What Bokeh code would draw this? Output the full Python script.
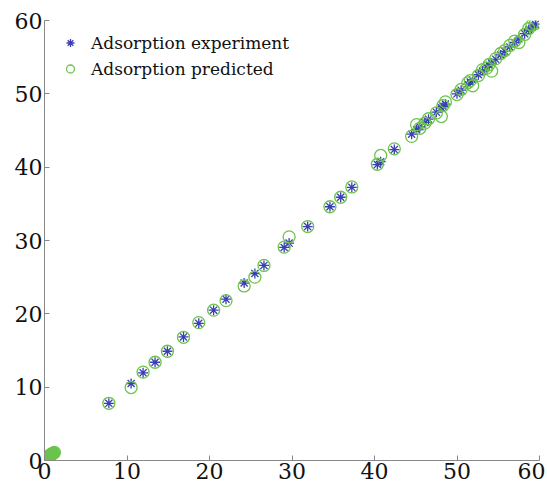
from bokeh.plotting import figure
from bokeh.models import Legend, LegendItem, FixedTicker
from bokeh.embed import file_html
from bokeh.resources import INLINE

# Experimental values (x) and predicted values
experiment = [0.05, 0.1, 0.15, 0.2, 0.25, 0.3, 0.35, 0.4, 0.45, 0.5, 0.55, 0.6,
              0.65, 0.7, 0.75, 0.8, 0.85, 0.9, 1.0, 1.1, 1.2,
              7.8, 10.5, 11.95, 13.4, 14.9, 16.85, 18.7, 20.5, 22.0, 24.2, 25.5,
              26.6, 29.05, 29.65, 31.9, 34.6, 35.9, 37.25, 40.35, 40.75, 42.4,
              44.5, 45.1, 45.5, 46.1, 46.55, 47.5, 48.1, 48.3, 48.6, 50.0, 50.5,
              51.3, 51.6, 51.9, 52.6, 53.1, 53.6, 53.9, 54.2, 54.7, 55.3, 55.8,
              56.4, 57.0, 57.5, 58.2, 58.7, 59.1, 59.5]
predicted = [0.1, 0.05, 0.2, 0.3, 0.2, 0.35, 0.3, 0.5, 0.4, 0.55, 0.6, 0.55,
             0.7, 0.65, 0.8, 0.75, 0.9, 0.85, 0.95, 1.0, 1.1,
             7.8, 9.95, 12.05, 13.4, 14.9, 16.8, 18.8, 20.5, 21.8, 23.8, 25.0,
             26.6, 29.1, 30.5, 31.9, 34.6, 35.9, 37.3, 40.4, 41.6, 42.5,
             44.2, 45.8, 45.3, 46.0, 46.6, 47.4, 46.9, 48.4, 48.9, 49.9, 50.6,
             51.5, 51.8, 51.1, 52.5, 53.3, 53.5, 54.0, 53.1, 54.8, 55.5, 55.9,
             56.6, 57.2, 57.0, 58.1, 58.9, 59.4, 59.6]
ticks = [0, 10, 20, 30, 40, 50, 60]

FONT = "DejaVu Serif"
STAR = "#3a3fb6"
RING = "#6cc44c"

p = figure(width=545, height=488, x_range=(0, 60), y_range=(0, 60),
           output_backend="svg", toolbar_location=None,
           min_border_left=44, min_border_right=6, min_border_top=20,
           min_border_bottom=28)
p.outline_line_color = None
p.grid.visible = False
p.background_fill_color = "white"

r1 = p.scatter(experiment, experiment, marker="asterisk", size=10,
               line_color=STAR, line_width=1.3)
r2 = p.scatter(experiment, predicted, marker="circle", size=12,
               fill_color=None, line_color=RING, line_width=1.3)

for ax in (p.xaxis[0], p.yaxis[0]):
    ax.ticker = FixedTicker(ticks=ticks)
    ax.axis_line_color = "#888888"
    ax.major_tick_line_color = "#888888"
    ax.major_tick_in = 5
    ax.major_tick_out = 0
    ax.minor_tick_line_color = None
    ax.major_label_text_font = FONT
    ax.major_label_text_font_size = "22px"
    ax.major_label_text_color = "#111111"
p.xaxis.major_label_standoff = 2
p.yaxis.major_label_standoff = 2

legend = Legend(items=[LegendItem(label="Adsorption experiment", renderers=[r1]),
                       LegendItem(label="Adsorption predicted", renderers=[r2])],
                location=(16, 380), margin=0, padding=0, spacing=3,
                label_height=23, glyph_height=23, glyph_width=20,
                label_standoff=11, border_line_color=None,
                background_fill_alpha=0,
                label_text_font=FONT, label_text_font_size="17px",
                label_text_color="#111111")
p.add_layout(legend)

open("out.html", "w").write(file_html(p, INLINE))
